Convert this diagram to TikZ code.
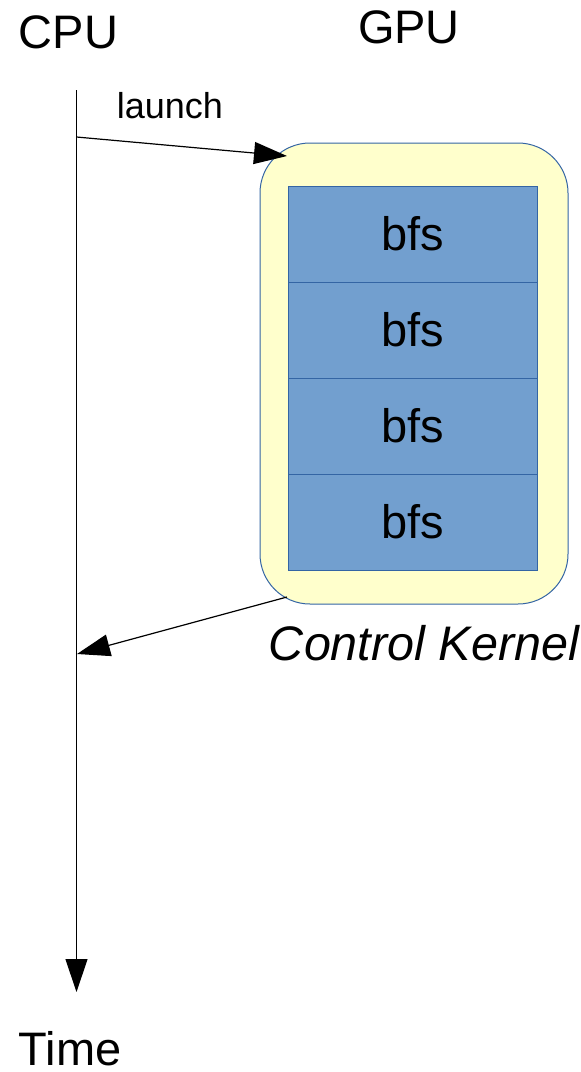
\documentclass[tikz,border=0pt]{standalone}
\usepackage{fontspec}
\setmainfont{Liberation Sans}
\usetikzlibrary{arrows.meta}
\definecolor{kernelfill}{HTML}{FFFFCC}
\definecolor{kernelline}{HTML}{3465A4}
\definecolor{blockfill}{HTML}{729FCF}
\tikzset{
  bigtext/.style={font=\fontsize{47}{56}\selectfont, inner sep=0pt},
  smalltext/.style={font=\fontsize{36}{43}\selectfont, inner sep=0pt},
  kernelbox/.style={draw=kernelline, fill=kernelfill, line width=1pt,
    rounded corners=50pt, minimum width=308pt, minimum height=461pt, inner sep=0pt},
  blockrow/.style={draw=kernelline, fill=blockfill, line width=0.8pt,
    minimum width=249pt, minimum height=96pt, inner sep=0pt,
    font=\fontsize{47}{56}\selectfont},
  flow/.style={line width=1.2pt, -{Triangle[length=33pt,width=22pt]}},
}
\begin{document}
\begin{tikzpicture}[x=1pt, y=-1pt]
  \useasboundingbox (0,0) rectangle (581,1072);

  % column headings
  \node[bigtext, anchor=base] (cpu) at (68.5,48) {CPU};
  \node[bigtext, anchor=base] (gpu) at (409,43) {GPU};

  % control kernel with its four bfs launches
  \node[kernelbox] (kernel) at (414,373.5) {};
  \node[blockrow] (bfsA) at (412.5,234) {bfs};
  \node[blockrow] (bfsB) at (412.5,330) {bfs};
  \node[blockrow] (bfsC) at (412.5,426) {bfs};
  \node[blockrow] (bfsD) at (412.5,522) {bfs};
  \node[anchor=base, inner sep=0pt, font=\fontsize{48.5}{58}\selectfont\itshape] (ctrl) at (424,660) {Control Kernel};

  % CPU time line
  \coordinate (tstart) at (76.5,90);
  \coordinate (tend) at (76.5,992);
  \node[bigtext, anchor=base] (time) at (70,1065) {Time};
  \draw[flow] (tstart) -- (tend);

  % launch and return
  \coordinate (launchfrom) at (76.5,137);
  \coordinate (launchto) at (287,156);
  \coordinate (retfrom) at (287,597);
  \coordinate (retto) at (77,654);
  \draw[flow] (launchfrom) -- (launchto);
  \node[smalltext, anchor=base] (launch) at (170,118) {launch};
  \draw[flow] (retfrom) -- (retto);
\end{tikzpicture}
\end{document}
